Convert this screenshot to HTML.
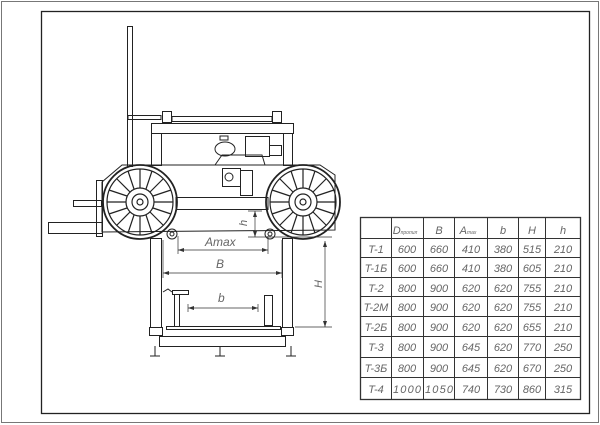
<!DOCTYPE html><html><head><style>body{margin:0;background:#fff}svg{display:block}text{font-family:"Liberation Sans",sans-serif;font-style:italic;fill:#666}</style></head><body>
<svg width="600" height="425" viewBox="0 0 600 425" xmlns="http://www.w3.org/2000/svg">
<rect x="1.5" y="1.5" width="597" height="421" fill="none" stroke="#777" stroke-width="1"/>
<rect x="41.5" y="11.5" width="548" height="402" fill="none" stroke="#222" stroke-width="1.3"/>
<g fill="none" stroke="#222" stroke-width="1">
<rect x="127.5" y="26.5" width="5" height="140"/>
<rect x="128" y="115.5" width="33" height="4"/>
<rect x="162.5" y="111.5" width="9" height="11"/>
<rect x="272.5" y="111.5" width="9" height="11"/>
<rect x="172" y="116.5" width="100" height="5"/>
<rect x="151.5" y="123.5" width="142" height="10"/>
<rect x="151.5" y="133.5" width="10" height="32"/>
<rect x="283.5" y="133.5" width="9" height="32"/>
<ellipse cx="225" cy="149" rx="10" ry="7"/>
<rect x="220" y="136" width="8" height="4"/>
<rect x="245.5" y="136.5" width="24" height="20"/>
<rect x="269.5" y="145.5" width="12" height="10"/>
<path d="M215 165 L222 155 L262 155 L265 165"/>
<path d="M102 200 L102 182 L122 165 L320 165 L335 175 L335 230 L102 232 Z"/>
<rect x="222.5" y="168.5" width="18" height="18"/><circle cx="229" cy="177" r="4"/>
<rect x="240.5" y="170.5" width="12" height="25"/>
<rect x="176" y="197.5" width="92" height="12"/>
<g id="w" stroke-width="1.2">
<circle cx="140" cy="202" r="37" stroke-width="1.8"/><circle cx="140" cy="202" r="33"/>
<circle cx="140" cy="202" r="14"/><circle cx="140" cy="202" r="8"/><circle cx="140" cy="202" r="3"/>
<path d="M140 188V169 M140 216V235 M126 202H107 M154 202H173 M130 192L117 179 M150 212L163 225 M150 192L163 179 M130 212L117 225 M134 189L128 171 M146 215L152 233 M153 196L171 190 M127 208L109 214 M146 189L152 171 M134 215L128 233 M153 208L171 214 M127 196L109 190"/>
</g>
<use href="#w" x="163"/>
<rect x="73.5" y="200.5" width="28" height="6"/>
<rect x="48.5" y="222.5" width="54" height="11"/>
<rect x="96.5" y="180.5" width="6" height="56"/>
<circle cx="172" cy="234" r="5"/><circle cx="172" cy="234" r="2"/>
<circle cx="270" cy="234" r="5"/><circle cx="270" cy="234" r="2"/>
<rect x="150.5" y="238.5" width="11" height="89"/>
<rect x="282.5" y="238.5" width="10" height="89"/>
<rect x="149.5" y="327.5" width="13" height="8"/>
<rect x="281.5" y="327.5" width="12" height="8"/>
<rect x="166.5" y="326.5" width="114" height="3"/>
<rect x="159.5" y="336.5" width="126" height="10"/>
<path d="M155 346V356 M150 356H160 M220 346V356 M215 356H225 M291 346V356 M286 356H296"/>
<rect x="172.5" y="290.5" width="16" height="4"/>
<rect x="174.5" y="294.5" width="5" height="32"/>
<path d="M163 292 L168 289 L172 292"/>
<rect x="264.5" y="295.5" width="8" height="30"/>
</g>
<g stroke="#333" stroke-width="0.7" fill="none">
<path d="M255 211V237 M248 211H262 M248 237H332 M325 241V327 M295 327H332 M178 236V254 M268 236V254 M178 250H268 M163 240V278 M282 240V278 M163 273H282 M188 304V312 M258 304V312 M188 308H258"/>
</g>
<g fill="#333">
<path d="M255 211l-2 6h4z M255 237l-2-6h4z M325 241l-2 6h4z M325 327l-2-6h4z M178 250l6-2v4z M268 250l-6-2v4z M163 273l6-2v4z M282 273l-6-2v4z M188 308l6-2v4z M258 308l-6-2v4z"/>
</g>
<text x="205" y="246" font-size="12">Amax</text>
<text x="216" y="268" font-size="12">B</text>
<text x="218" y="302" font-size="12">b</text>
<text x="0" y="0" font-size="11" transform="translate(247,226) rotate(-90)">h</text>
<text x="0" y="0" font-size="11" transform="translate(322,288) rotate(-90)">H</text>
<g stroke="#333" stroke-width="1" fill="none">
<rect x="360.5" y="217.5" width="220" height="182" stroke-width="1.3"/>
<path d="M391.5 217V400 M423.5 217V400 M454.5 217V400 M487.5 217V400 M518.5 217V400 M545.5 217V400 M360 238.5H581 M360 257.5H581 M360 277.5H581 M360 296.5H581 M360 316.5H581 M360 336.5H581 M360 357.5H581 M360 377.5H581"/>
</g>
<g font-size="11" text-anchor="middle">
<text x="405" y="234">D<tspan font-size="5">пропил</tspan></text><text x="439" y="234">B</text><text x="468" y="234">A<tspan font-size="5">max</tspan></text><text x="503" y="234">b</text><text x="532" y="234">H</text><text x="563" y="234">h</text>
<text x="376" y="253">T-1</text><text x="407" y="253">600</text><text x="439" y="253">660</text><text x="471" y="253">410</text><text x="503" y="253">380</text><text x="532" y="253">515</text><text x="563" y="253">210</text>
<text x="376" y="272">T-1Б</text><text x="407" y="272">600</text><text x="439" y="272">660</text><text x="471" y="272">410</text><text x="503" y="272">380</text><text x="532" y="272">605</text><text x="563" y="272">210</text>
<text x="376" y="292">T-2</text><text x="407" y="292">800</text><text x="439" y="292">900</text><text x="471" y="292">620</text><text x="503" y="292">620</text><text x="532" y="292">755</text><text x="563" y="292">210</text>
<text x="376" y="311">T-2M</text><text x="407" y="311">800</text><text x="439" y="311">900</text><text x="471" y="311">620</text><text x="503" y="311">620</text><text x="532" y="311">755</text><text x="563" y="311">210</text>
<text x="376" y="331">T-2Б</text><text x="407" y="331">800</text><text x="439" y="331">900</text><text x="471" y="331">620</text><text x="503" y="331">620</text><text x="532" y="331">655</text><text x="563" y="331">210</text>
<text x="376" y="351">T-3</text><text x="407" y="351">800</text><text x="439" y="351">900</text><text x="471" y="351">645</text><text x="503" y="351">620</text><text x="532" y="351">770</text><text x="563" y="351">250</text>
<text x="376" y="372">T-3Б</text><text x="407" y="372">800</text><text x="439" y="372">900</text><text x="471" y="372">645</text><text x="503" y="372">620</text><text x="532" y="372">670</text><text x="563" y="372">250</text>
<text x="376" y="393">T-4</text><text x="407" y="393" textLength="28">1000</text><text x="439" y="393" textLength="28">1050</text><text x="471" y="393">740</text><text x="503" y="393">730</text><text x="532" y="393">860</text><text x="563" y="393">315</text>
</g>
</svg></body></html>
